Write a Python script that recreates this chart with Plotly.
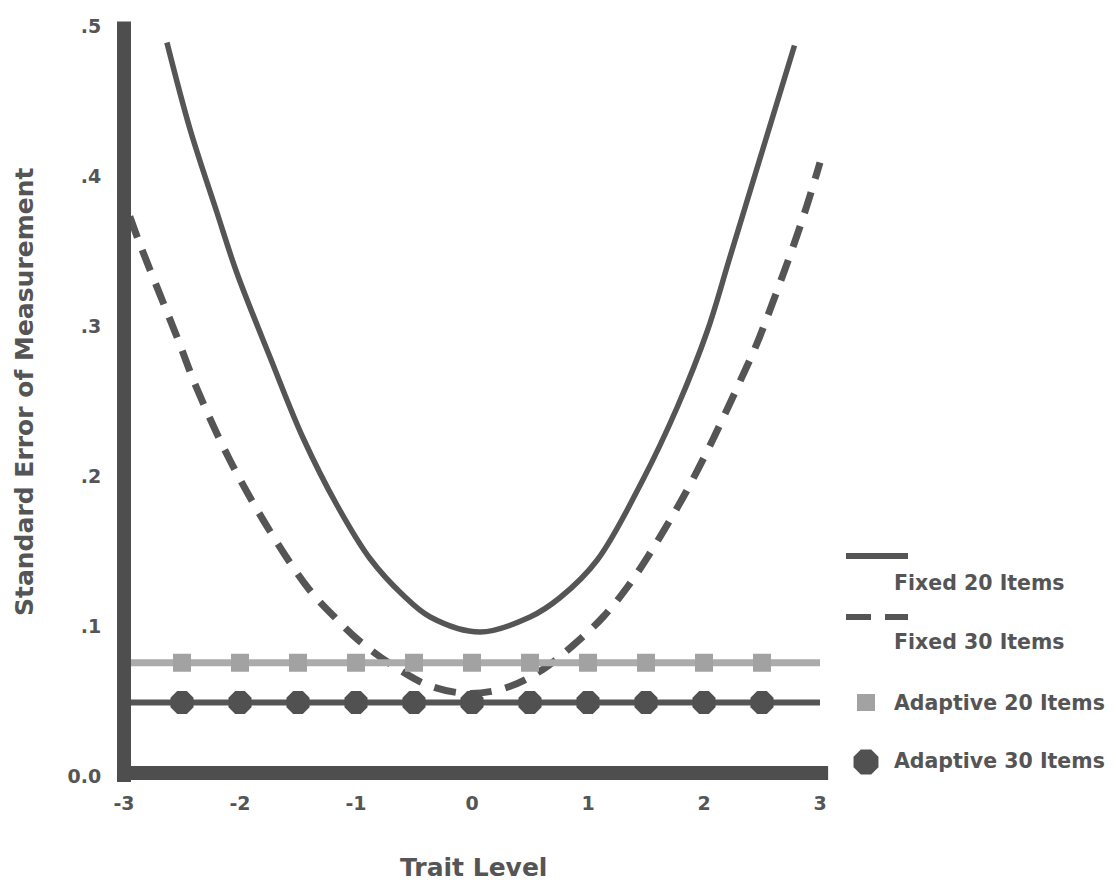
import math
import plotly.graph_objects as go

# ---- data -------------------------------------------------------------
fixed20_theta = [-2.63, -2.43, -2.20, -2.03, -1.74, -1.46, -1.16, -0.88, -0.60, -0.36,
                 0.07, 0.50, 0.76, 1.08, 1.47, 1.77, 2.03, 2.22, 2.48, 2.78]
fixed20_se = [0.489, 0.431, 0.376, 0.336, 0.279, 0.226, 0.180, 0.145, 0.121, 0.106,
              0.096, 0.106, 0.119, 0.144, 0.197, 0.246, 0.297, 0.345, 0.411, 0.487]

fixed30_theta = [-2.95, -2.86, -2.54, -2.37, -2.09, -1.74, -1.40, -1.16, -0.97, -0.65,
                 -0.36, -0.02, 0.30, 0.61, 0.87, 1.13, 1.34, 1.53, 1.71, 1.85,
                 2.03, 2.16, 2.31, 2.46, 2.68, 2.80, 2.89, 3.00]
fixed30_se = [0.373, 0.354, 0.292, 0.258, 0.211, 0.163, 0.124, 0.104, 0.090, 0.072,
              0.060, 0.055, 0.059, 0.071, 0.087, 0.106, 0.126, 0.148, 0.171, 0.190,
              0.217, 0.238, 0.263, 0.289, 0.334, 0.360, 0.381, 0.409]

adaptive_line_theta = [-3.0, 3.0]
adaptive_marker_theta = [-2.5, -2.0, -1.5, -1.0, -0.5, 0.0, 0.5, 1.0, 1.5, 2.0, 2.5]
adaptive20_se = 0.0755
adaptive30_se = 0.049

x_tickvals = [-3, -2, -1, 0, 1, 2, 3]
x_ticktext = ["-3", "-2", "-1", "0", "1", "2", "3"]
y_tickvals = [0.0, 0.1, 0.2, 0.3, 0.4, 0.5]
y_ticktext = ["0.0", ".1", ".2", ".3", ".4", ".5"]

series_names = ["Fixed 20 Items", "Fixed 30 Items", "Adaptive 20 Items", "Adaptive 30 Items"]

# ---- styling ----------------------------------------------------------
DARK = "#555555"
BAR = "#4e4e4e"
LIGHT = "#ababab"
LIGHT_MK = "#a2a2a2"
TEXT = "#555555"
FONT = "DejaVu Sans, Verdana, sans-serif"

W, H = 1116, 884
ML, MR, MT, MB = 112, 284, 11, 100
PW, PH = W - ML - MR, H - MT - MB

# x: -3 at 124px, 3 at 820px ; y: 0 at 776px, 0.5 at 26px
x_per = (820 - 124) / 6.0
y_per = (776 - 26) / 0.5
x0 = -3 - (124 - ML) / x_per
y0 = -((MT + PH) - 776) / y_per
x_range = [x0, x0 + PW / x_per]
y_range = [y0, y0 + PH / y_per]


def px(xp):
    return (xp - ML) / PW


def py(yp):
    return (MT + PH - yp) / PH


fig = go.Figure()

fig.add_trace(go.Scatter(
    x=fixed20_theta, y=fixed20_se, mode="lines", name=series_names[0],
    line=dict(color=DARK, width=5.5, shape="spline", smoothing=1.0),
))
fig.add_trace(go.Scatter(
    x=fixed30_theta, y=fixed30_se, mode="lines", name=series_names[1],
    line=dict(color=DARK, width=7, dash="22px,14px", shape="spline", smoothing=1.0),
))

# adaptive tests: flat lines across the trait range with markers every half unit
fig.add_trace(go.Scatter(
    x=adaptive_line_theta, y=[adaptive20_se] * len(adaptive_line_theta), mode="lines",
    line=dict(color=LIGHT, width=7), showlegend=False,
))
fig.add_trace(go.Scatter(
    x=adaptive_marker_theta, y=[adaptive20_se] * len(adaptive_marker_theta), mode="markers",
    name=series_names[2],
    marker=dict(symbol="square", size=18, color=LIGHT_MK, line=dict(width=0)),
))
fig.add_trace(go.Scatter(
    x=adaptive_line_theta, y=[adaptive30_se] * len(adaptive_line_theta), mode="lines",
    line=dict(color=DARK, width=6), showlegend=False,
))
fig.add_trace(go.Scatter(
    x=adaptive_marker_theta, y=[adaptive30_se] * len(adaptive_marker_theta), mode="markers",
    name=series_names[3],
    marker=dict(symbol="octagon", size=25, color="#515151", line=dict(width=0)),
))

shapes = []
# heavy axis bars
shapes.append(dict(type="line", xref="x", yref="y", x0=-3, x1=-3, y0=-0.004, y1=0.503,
                   line=dict(color=BAR, width=14), layer="above"))
shapes.append(dict(type="line", xref="x", yref="y", x0=-3.06, x1=3.07, y0=0.002, y1=0.002,
                   line=dict(color=BAR, width=14), layer="above"))

# legend samples
shapes.append(dict(type="line", xref="paper", yref="paper", x0=px(846), x1=px(908),
                   y0=py(556), y1=py(556), line=dict(color=DARK, width=6)))
shapes.append(dict(type="line", xref="paper", yref="paper", x0=px(846), x1=px(871),
                   y0=py(617), y1=py(617), line=dict(color=DARK, width=6)))
shapes.append(dict(type="line", xref="paper", yref="paper", x0=px(885), x1=px(908),
                   y0=py(617), y1=py(617), line=dict(color=DARK, width=6)))
shapes.append(dict(type="rect", xref="paper", yref="paper", x0=px(857), x1=px(875),
                   y0=py(711), y1=py(694), fillcolor=LIGHT_MK, line=dict(width=0)))
cx, cy, r = 866, 762, 13.5
pts = []
for k in range(8):
    a = math.radians(22.5 + 45 * k)
    pts.append((px(cx + r * math.cos(a)), py(cy + r * math.sin(a))))
path = "M " + " L ".join(f"{a:.5f},{b:.5f}" for a, b in pts) + " Z"
shapes.append(dict(type="path", xref="paper", yref="paper", path=path,
                   fillcolor="#515151", line=dict(width=0)))

annotations = []
legend_text_y = [583, 642, 703, 761]
for name, ty in zip(series_names, legend_text_y):
    annotations.append(dict(
        text=f"<b>{name}</b>", xref="paper", yref="paper", x=px(892), y=py(ty),
        xanchor="left", yanchor="middle", showarrow=False,
        font=dict(family=FONT, size=20.5, color=TEXT),
    ))

annotations.append(dict(
    text="<b>Trait Level</b>", xref="paper", yref="paper", x=px(473), y=py(867),
    xanchor="center", yanchor="middle", showarrow=False,
    font=dict(family=FONT, size=25, color=TEXT),
))
annotations.append(dict(
    text="<b>Standard Error of Measurement</b>", xref="paper", yref="paper",
    x=px(24), y=py(392), xanchor="center", yanchor="middle", textangle=-90,
    showarrow=False, font=dict(family=FONT, size=25, color=TEXT),
))

fig.update_layout(
    width=W, height=H,
    margin=dict(l=ML, r=MR, t=MT, b=MB, pad=0),
    paper_bgcolor="white", plot_bgcolor="white",
    showlegend=False,
    shapes=shapes, annotations=annotations,
    font=dict(family=FONT, color=TEXT),
)
fig.update_xaxes(
    range=x_range, tickvals=x_tickvals, ticktext=[f"<b>{t}</b>" for t in x_ticktext],
    showgrid=False, zeroline=False, showline=False,
    ticks="outside", ticklen=2, tickcolor="rgba(0,0,0,0)",
    tickfont=dict(family=FONT, size=19, color=TEXT),
)
fig.update_yaxes(
    range=y_range, tickvals=y_tickvals, ticktext=[f"<b>{t}</b>" for t in y_ticktext],
    showgrid=False, zeroline=False, showline=False,
    ticks="outside", ticklen=6, tickcolor="rgba(0,0,0,0)",
    tickfont=dict(family=FONT, size=19, color=TEXT),
)

fig.write_html("out.html")
